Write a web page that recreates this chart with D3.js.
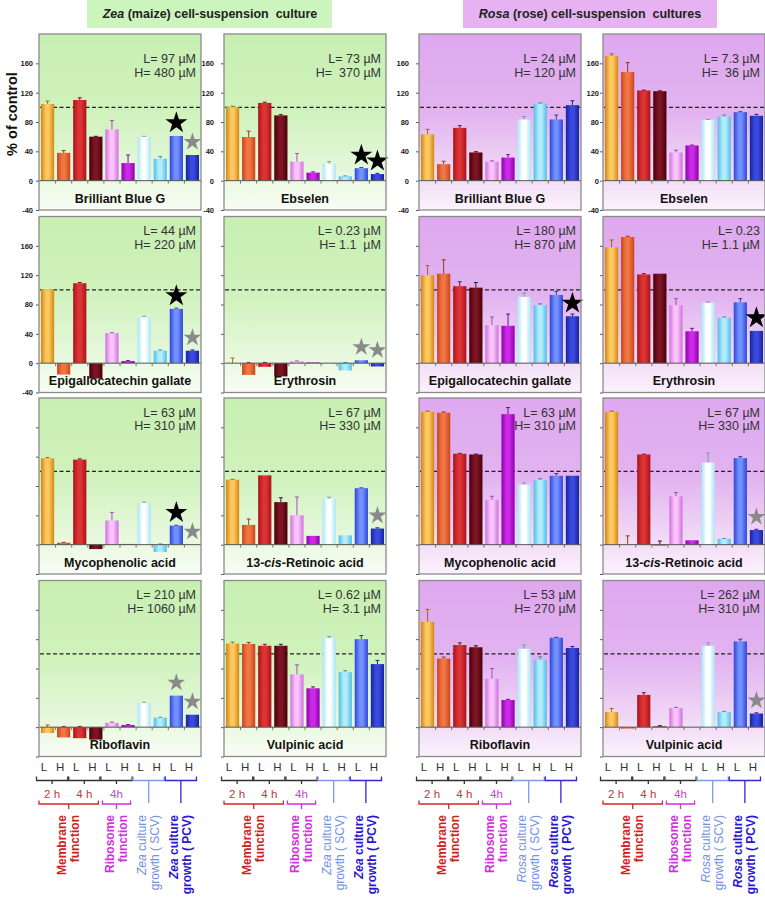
<!DOCTYPE html>
<html><head><meta charset="utf-8">
<script src="https://cdn.jsdelivr.net/npm/d3@7"></script>
<style>
body{margin:0;background:#fff}
text{font-family:Arial,"Liberation Sans",Helvetica,sans-serif;white-space:pre}
</style></head>
<body><svg id="c" width="765" height="897" xmlns="http://www.w3.org/2000/svg"></svg>
<script>
// ---------------- DATA ----------------
const barLabels = ["L","H","L","H","L","H","L","H","L","H"];
const compounds = ["Brilliant Blue G","Ebselen","Epigallocatechin gallate","Erythrosin","Mycophenolic acid","13-cis-Retinoic acid","Riboflavin","Vulpinic acid"];
const zeaLow  = ["L= 97 µM","L= 73 µM","L= 44 µM","L= 0.23 µM","L= 63 µM","L= 67 µM","L= 210 µM","L= 0.62 µM"];
const zeaHigh = ["H= 480 µM","H=  370 µM","H= 220 µM","H= 1.1  µM","H= 310 µM","H= 330 µM","H= 1060 µM","H= 3.1 µM"];
const rosaLow  = ["L= 24 µM","L= 7.3 µM","L= 180 µM","L= 0.23","L= 63 µM","L= 67 µM","L= 53 µM","L= 262 µM"];
const rosaHigh = ["H= 120 µM","H=  36 µM","H= 870 µM","H= 1.1 µM","H= 310 µM","H= 330 µM","H= 270 µM","H= 310 µM"];
const yTicks = [-40,0,40,80,120,160];

const zeaValues = [
  [104.5,38,110,60,70,24,60,30,61,35],
  [100.5,59.5,106,89,26,11,23,6,17,9],
  [101,-15.5,109,-21,41,3,63,17,74,17],
  [0,-16,-5,-18,2.5,1,-1.5,-10,4,-4.5],
  [117.7,2.7,116,-6,33,1,57,-10,26,0],
  [88.6,27,94.5,58,40,12,62.7,12.7,77,22],
  [-8,-14,-15,-17,6,3,33,13,43,17],
  [114,113.5,111,111,72,53,121.5,75,120,86]
];
const zeaErrors = [
  [4,3,3,0.5,12,11,0.5,3,0,0],
  [1,8,1,1,11,1,3,0.5,1,1],
  [0,0,1,0,0.5,0.5,1,1,1,1],
  [7,1,1,0,0.5,0,0,1,0,0],
  [1,0.5,1,0,11,0,1,1,0.5,0],
  [0.5,8,0,6,25,0,2,0,0.5,1],
  [3,1,1,0,1,0.5,1,0.5,0,0],
  [2,2,2,2,13,2,2,2,5,5]
];
// 0 = none, 1 = black star, 2 = grey star
const zeaStars = [
  [0,0,0,0,0,0,0,0,1,2],
  [0,0,0,0,0,0,0,0,1,1],
  [0,0,0,0,0,0,0,0,1,2],
  [0,0,0,0,0,0,0,0,2,2],
  [0,0,0,0,0,0,0,0,1,2],
  [0,0,0,0,0,0,0,0,0,2],
  [0,0,0,0,0,0,0,0,2,2],
  [0,0,0,0,0,0,0,0,0,0]
];
const rosaValues = [
  [63,22.5,72,38.5,26,31.5,83.5,105,83.5,103],
  [170,148,123,122,38.5,48,83,87.5,93.5,88.5],
  [120,122,105,103,52,51,90.5,79,93,64],
  [158,172,121,122,79,43.5,82.5,62,83,44],
  [181,180,124,123,61,178,82,88,94,94],
  [181,0,123,-1,66,6,112,8,118,20],
  [143.6,93.6,112,109,66,37,107,92,122,108],
  [20.5,-2,44,1,26,0,111,20.5,117,18.6]
];
const rosaErrors = [
  [7,4,3,1,1,4,4,1,6,6],
  [3,13,0.5,0.5,3,0.5,0.5,2,0.5,2],
  [13,19,6,7,11,16,5,2,5,3],
  [10,1,1,0,9,4,1,1,5,0],
  [1,1,0.5,0.5,5,9,2,2,3,0],
  [1,12,0.5,5,5,0,13,0.5,2,1],
  [17,2,3,2,14,1,5,4,0.5,2],
  [5,0,3,1,1,0,4,1,3,1]
];
const rosaStars = [
  [0,0,0,0,0,0,0,0,0,0],
  [0,0,0,0,0,0,0,0,0,0],
  [0,0,0,0,0,0,0,0,0,1],
  [0,0,0,0,0,0,0,0,0,1],
  [0,0,0,0,0,0,0,0,0,0],
  [0,0,0,0,0,0,0,0,0,2],
  [0,0,0,0,0,0,0,0,0,0],
  [0,0,0,0,0,0,0,0,0,2]
];

// ---------------- STYLE ----------------
const barEdge  = ["#d4860e","#c9441a","#a8121a","#460008","#cf6fdf","#8e00ae","#a6e6f6","#52bce6","#2c46d6","#16249e"];
const barLight = ["#fbc862","#f07644","#dc3434","#7c1424","#fac4fa","#cc2ae6","#ffffff","#b0ecfa","#7290ff","#3a4ade"];
const barErr   = ["#a06000","#902a08","#700008","#300004","#a040b0","#600080","#60a0b0","#3090b0","#1830a0","#0c1870"];

const colX = [39, 224, 419, 603];
const tickPad = [3, 7, 7, 1];
const rowTop = [34, 216.5, 398, 580.5];
const PW = 162, PH = 176;

const svg = d3.select("#c");
const defs = svg.append("defs");
function grad(id, stops, horiz){
  const g = defs.append("linearGradient").attr("id", id)
    .attr("x1",0).attr("y1",0).attr("x2", horiz?1:0).attr("y2", horiz?0:1);
  stops.forEach(s => g.append("stop").attr("offset", s[0]).attr("stop-color", s[1]));
}
grad("bgZea", [[0,"#c8efb2"],[0.45,"#d0f2bd"],[0.78,"#e6f8dc"],[1,"#f8fdf5"]]);
grad("bgRosa", [[0,"#dea8ee"],[0.45,"#e2b3f0"],[0.78,"#f0d8f5"],[1,"#fbf2fc"]]);
barEdge.forEach((c,i) => grad("bar"+i, [[0,c],[0.38,barLight[i]],[0.6,barLight[i]],[1,c]], true));

// header boxes
svg.append("rect").attr("x",87).attr("y",0).attr("width",245).attr("height",28).attr("fill","#ccf5bd");
svg.append("rect").attr("x",463).attr("y",0).attr("width",254).attr("height",28).attr("fill","#e6b2f1");
const h1 = svg.append("text").attr("x",210).attr("y",18).attr("text-anchor","middle")
  .attr("font-size",12.5).attr("font-weight","bold").attr("fill","#222");
h1.append("tspan").attr("font-style","italic").text("Zea");
h1.append("tspan").text(" (maize) cell-suspension  culture");
const h2 = svg.append("text").attr("x",590).attr("y",18).attr("text-anchor","middle")
  .attr("font-size",12.5).attr("font-weight","bold").attr("fill","#222");
h2.append("tspan").attr("font-style","italic").text("Rosa");
h2.append("tspan").text(" (rose) cell-suspension  cultures");

svg.append("text").attr("transform","translate(17,114) rotate(-90)").attr("text-anchor","middle")
  .attr("font-size",14.5).attr("font-weight","bold").attr("fill","#111").text("% of control");

const x = d3.scaleBand().domain(d3.range(10)).range([1, PW-1]).paddingInner(0.18).paddingOuter(0.06);
const step = x.step();

function drawName(g, name, cx, cy){
  const t = g.append("text").attr("x",cx).attr("y",cy).attr("text-anchor","middle")
    .attr("font-size",12.5).attr("font-weight","bold").attr("fill","#111");
  if (name.includes("-cis-")) {
    t.append("tspan").text("13-");
    t.append("tspan").attr("font-style","italic").text("cis");
    t.append("tspan").text("-Retinoic acid");
  } else t.text(name);
}

function panel(species, ci, values, errors, stars, low, high){
  const row = Math.floor(ci/2), col = (species==="zea"?0:2) + ci%2;
  const x0 = colX[col], top = rowTop[row];
  const y = d3.scaleLinear().domain([-40,200]).range([top+PH, top]);
  const g = svg.append("g");
  g.append("rect").attr("x",x0).attr("y",top).attr("width",PW).attr("height",PH)
    .attr("fill", species==="zea"?"url(#bgZea)":"url(#bgRosa)");
  g.append("line").attr("x1",x0+1).attr("x2",x0+PW-1).attr("y1",y(100)).attr("y2",y(100))
    .attr("stroke","#222").attr("stroke-width",1.1).attr("stroke-dasharray","4,2.5");
  const gx = g.append("g").attr("transform",`translate(${x0},0)`);
  gx.selectAll("rect.bar").data(values).join("rect").attr("class","bar")
    .attr("x",(d,i)=>x(i)).attr("width",x.bandwidth())
    .attr("y",d=>y(Math.max(0,d))).attr("height",d=>Math.abs(y(0)-y(d)))
    .attr("fill",(d,i)=>`url(#bar${i})`);
  values.forEach((v,i)=>{
    const e = errors[i]; if(!e) return;
    const cx = x(i)+x.bandwidth()/2, yb = y(Math.max(0,v)), ye = y(Math.max(0,v)+e);
    gx.append("line").attr("x1",cx).attr("x2",cx).attr("y1",yb).attr("y2",ye).attr("stroke",barErr[i]).attr("stroke-width",0.9);
    gx.append("line").attr("x1",cx-2).attr("x2",cx+2).attr("y1",ye).attr("y2",ye).attr("stroke",barErr[i]).attr("stroke-width",0.9);
  });
  g.append("line").attr("x1",x0).attr("x2",x0+PW).attr("y1",y(0)).attr("y2",y(0)).attr("stroke","#555").attr("stroke-width",1);
  d3.range(1,10).forEach(i=>{
    const tx = x0 + x(i) - (step - x.bandwidth())/2;
    g.append("line").attr("x1",tx).attr("x2",tx).attr("y1",y(0)).attr("y2",y(0)+3).attr("stroke","#555").attr("stroke-width",0.8);
  });
  stars.forEach((s,i)=>{
    if(!s) return;
    const cx = x0 + x(i)+x.bandwidth()/2;
    const cy = y(Math.max(0,values[i])) - 13;
    g.append("path").attr("d", d3.symbol().type(d3.symbolStar).size(s===1?150:100)())
      .attr("transform",`translate(${cx},${cy})`).attr("fill", s===1?"#000":"#8a8a8a");
  });
  const showLabels = row===0 || (row===1 && col===0);
  const ax = d3.axisLeft(y).tickValues(yTicks).tickSize(3).tickPadding(tickPad[col])
    .tickFormat(d=> showLabels ? d : "");
  const ag = g.append("g").attr("transform",`translate(${x0},0)`).call(ax);
  ag.select(".domain").remove();
  ag.selectAll("line").attr("stroke","#555");
  ag.selectAll("text").attr("font-size",7.5).attr("font-weight","bold").attr("fill","#222")
    .attr("font-family","Arial, 'Liberation Sans', sans-serif");
  g.append("rect").attr("x",x0).attr("y",top).attr("width",PW).attr("height",PH)
    .attr("fill","none").attr("stroke","#8a8a8a").attr("stroke-width",1.3);
  const off = row===0 ? 29 : 18.5;
  g.append("text").attr("x",x0+PW-5).attr("y",top+off).attr("text-anchor","end")
    .attr("font-size",12.5).attr("fill","#333").text(low);
  g.append("text").attr("x",x0+PW-5).attr("y",top+off+13.5).attr("text-anchor","end")
    .attr("font-size",12.5).attr("fill","#333").text(high);
  drawName(g, compounds[ci], x0+PW/2, y(0)+22);
}

compounds.forEach((c,i)=>{
  panel("zea", i, zeaValues[i], zeaErrors[i], zeaStars[i], zeaLow[i], zeaHigh[i]);
  panel("rosa", i, rosaValues[i], rosaErrors[i], rosaStars[i], rosaLow[i], rosaHigh[i]);
});

// ---------------- bottom legend ----------------
const pairColors = ["#333","#333","#333","#7c9ce8","#3626d2"];
const timeLabels = ["2 h","4 h","4h"];
const timeColors = ["#b83c3c","#b83c3c","#d040e0"];
function legend(col, genus){
  const x0 = colX[col] - 3.5;
  const g = svg.append("g").attr("transform",`translate(${x0},0)`);
  barLabels.forEach((l,i)=>{
    g.append("text").attr("x",x(i)+x.bandwidth()/2).attr("y",771).attr("text-anchor","middle")
      .attr("font-size",11.5).attr("fill","#333").text(l);
  });
  const gap = step - x.bandwidth();
  const pairStart = k => x(2*k) - gap/2 + 0.5;
  const pairEnd = k => x(2*k+1) + x.bandwidth() + gap/2 - 0.5;
  const pairMid = k => (pairStart(k)+pairEnd(k))/2;
  d3.range(5).forEach(k=>{
    const a = pairStart(k), b = pairEnd(k), m = pairMid(k), c = pairColors[k];
    g.append("path").attr("d",`M${a},776.5V780.5H${b}V776.5M${m},780.5V${k>=3?803:784}`)
      .attr("fill","none").attr("stroke",c).attr("stroke-width",1.3);
  });
  timeLabels.forEach((t,k)=>{
    g.append("text").attr("x",pairMid(k)).attr("y",798).attr("text-anchor","middle")
      .attr("font-size",11.5).attr("fill",timeColors[k]).text(t);
  });
  const ra = pairStart(0)+2.5, rb = pairEnd(1)-1.5, rm = (ra+rb)/2;
  g.append("path").attr("d",`M${ra},800.5V804H${rb}V800.5M${rm},804V809`).attr("fill","none").attr("stroke","#d02828").attr("stroke-width",1.3);
  const ma = pairStart(2)+1.5, mb = pairEnd(2)-1.5, mm = (ma+mb)/2;
  g.append("path").attr("d",`M${ma},800.5V804H${mb}V800.5M${mm},804V809`).attr("fill","none").attr("stroke","#d030e0").attr("stroke-width",1.3);
  function vtext(cx, parts, color, bold){
    const t = g.append("text").attr("transform",`translate(${cx+4.5},815) rotate(-90)`)
      .attr("text-anchor","end").attr("font-size",12).attr("fill",color)
      .attr("font-weight", bold?"bold":"normal");
    parts.forEach(p=>{
      const s = t.append("tspan").text(p[0]);
      if(p[1]) s.attr("font-style","italic");
    });
  }
  vtext(rm-7, [["Membrane"]], "#d02020", true);
  vtext(rm+6, [["function"]], "#d02020", true);
  vtext(mm-7, [["Ribosome"]], "#d030e0", true);
  vtext(mm+6, [["function"]], "#d030e0", true);
  vtext(pairMid(3)-7.5, [[genus,true],[" culture"]], "#7090e0", false);
  vtext(pairMid(3)+5.5, [["growth ( SCV)"]], "#7090e0", false);
  vtext(pairMid(4)-7.5, [[genus,true],[" culture"]], "#2a18d0", true);
  vtext(pairMid(4)+6, [["growth ( PCV)"]], "#2a18d0", true);
}
legend(0,"Zea"); legend(1,"Zea"); legend(2,"Rosa"); legend(3,"Rosa");
</script>
</body></html>
